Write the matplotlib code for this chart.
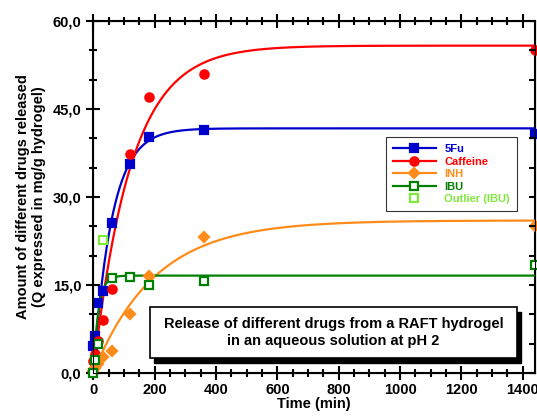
import numpy as np
import matplotlib
matplotlib.use("Agg")
import matplotlib.pyplot as plt
from matplotlib.patches import Rectangle
from matplotlib.ticker import MultipleLocator, FuncFormatter

plt.rcParams['font.family'] = ['Liberation Sans', 'DejaVu Sans']
plt.rcParams['font.weight'] = 'bold'

# ---- data ----
t_5fu = [0, 5, 15, 30, 60, 120, 180, 360, 1440]
y_5fu = [4.6, 6.3, 11.9, 13.9, 25.5, 35.7, 40.3, 41.4, 40.8]

t_caf = [0, 5, 15, 30, 60, 120, 180, 360, 1440]
y_caf = [2.0, 3.2, 5.5, 9.1, 14.3, 37.4, 47.1, 50.9, 55.0]

t_inh = [0, 5, 15, 30, 60, 120, 180, 360, 1440]
y_inh = [0.3, 0.8, 1.5, 2.8, 3.8, 10.0, 16.5, 23.2, 25.0]

t_ibu = [0, 5, 15, 60, 120, 180, 360, 1440]
y_ibu = [0.0, 2.3, 4.9, 16.2, 16.3, 15.0, 15.7, 18.4]

t_out = [30]
y_out = [22.7]

# fitted first-order release curves: plateau and rate constant (1/min)
fit_5fu = (41.7, 0.0165)
fit_caf = (55.8, 0.0082)
fit_inh = (26.0, 0.0050)
fit_ibu = (16.6, 0.060)

labels = ["5Fu", "Caffeine", "INH", "IBU", "Outlier (IBU)"]
colors = ["#0000CC", "#FF0000", "#FF8C1A", "#008000", "#7FE83A"]

fig = plt.figure(figsize=(5.37, 4.16), dpi=100)
ax = fig.add_axes([93.3/537, 43/416, (535-93.3)/537, (373-21)/416])

tt = np.linspace(0, 1440, 800)

def curve(p):
    return p[0] * (1 - np.exp(-p[1] * tt))

handles = []
series = [(t_5fu, y_5fu, fit_5fu, 's', colors[0], colors[0]),
          (t_caf, y_caf, fit_caf, 'o', colors[1], colors[1]),
          (t_inh, y_inh, fit_inh, 'D', colors[2], colors[2]),
          (t_ibu, y_ibu, fit_ibu, 's', colors[3], 'white')]
msizes = [6, 6, 5, 6]
for (t, y, p, m, c, fc), ms in zip(series, msizes):
    ax.plot(tt, curve(p), color=c, lw=1.6, zorder=3)
    ax.plot(t, y, ls='none', marker=m, ms=ms, mfc=fc, mec=c, mew=1.6,
            clip_on=False, zorder=4)
    h, = ax.plot([], [], color=c, lw=1.6, marker=m, ms=ms, mfc=fc, mec=c, mew=1.6)
    handles.append(h)

ax.plot(t_out, y_out, ls='none', marker='s', ms=6, mfc='white', mec=colors[4],
        mew=1.6, clip_on=False, zorder=4)
h, = ax.plot([], [], ls='none', marker='s', ms=6, mfc='white', mec=colors[4], mew=1.6)
handles.append(h)

ax.set_xlim(0, 1440)
ax.set_ylim(0, 60)
ax.xaxis.set_major_locator(MultipleLocator(200))
ax.xaxis.set_minor_locator(MultipleLocator(50))
ax.yaxis.set_major_locator(MultipleLocator(15))
ax.yaxis.set_minor_locator(MultipleLocator(5))
ax.yaxis.set_major_formatter(FuncFormatter(lambda v, p: f"{v:.1f}".replace('.', ',')))

for s in ax.spines.values():
    s.set_linewidth(1.5)

ax.tick_params(which='both', direction='inout', top=True, right=False,
               width=1.5, labelsize=10.5)
ax.tick_params(which='major', length=10)
ax.tick_params(which='minor', length=6)
ax.tick_params(axis='x', pad=2)
for lab in ax.get_xticklabels() + ax.get_yticklabels():
    lab.set_fontweight('bold')

# right-side inward ticks
axr = ax.twinx()
axr.set_ylim(0, 60)
axr.yaxis.set_major_locator(MultipleLocator(5))
axr.tick_params(axis='y', direction='in', length=4, width=1.5, labelright=False)
axr.set_yticklabels([])

ax.set_xlabel("Time (min)", fontsize=10.5, fontweight='bold', labelpad=0)
ax.set_ylabel("Amount of different drugs released\n(Q expressed in mg/g hydrogel)",
              fontsize=10.5, fontweight='bold', linespacing=1.15)
ax.yaxis.set_label_coords(-0.108, 0.5)

leg = ax.legend(handles, labels, loc='upper left', bbox_to_anchor=(0.663, 0.670),
                borderaxespad=0, fontsize=8, frameon=True, fancybox=False,
                handlelength=3.8, borderpad=0.65, labelspacing=0.22,
                handletextpad=0.8)
leg.get_frame().set_edgecolor('black')
leg.get_frame().set_linewidth(0.8)
for txt, c in zip(leg.get_texts(), colors):
    txt.set_color(c)
    txt.set_fontweight('bold')
leg.set_zorder(6)

# annotation box with shadow
bx, by, bw, bh = 150/537, (416-358)/416, 367/537, 51/416
shadow = Rectangle((bx + 4/537, by - 5/416), bw, bh, transform=fig.transFigure,
                   facecolor='black', edgecolor='black', zorder=7, clip_on=False)
box = Rectangle((bx, by), bw, bh, transform=fig.transFigure,
                facecolor='white', edgecolor='black', lw=1.2, zorder=8, clip_on=False)
fig.patches.extend([shadow, box])
fig.text(bx + bw/2, by + bh/2,
         "Release of different drugs from a RAFT hydrogel\nin an aqueous solution at pH 2",
         ha='center', va='center', fontsize=10.5, fontweight='bold', zorder=9,
         linespacing=1.25)

fig.savefig("out.png", dpi=100)
